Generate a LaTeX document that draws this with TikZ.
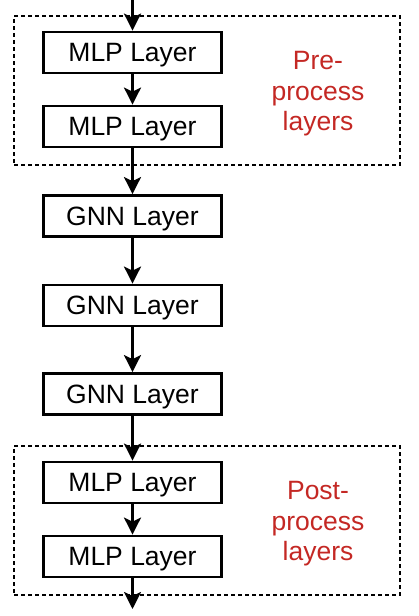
\documentclass[tikz,border=0pt]{standalone}
\usepackage{fontspec}
\setmainfont{Liberation Sans}
\usetikzlibrary{arrows.meta}
\definecolor{lblred}{RGB}{196,40,36}
\begin{document}
\begin{tikzpicture}[x=1pt,y=-1pt,
  layerbox/.style={draw, line width=2.8pt, minimum width=178pt, minimum height=41pt, inner sep=0pt,
    text depth=0pt, font=\fontsize{26.5}{31}\selectfont},
  grp/.style={draw, dashed, dash pattern=on 4pt off 3pt, line width=1.3pt, inner sep=0pt},
  lbl/.style={text=lblred, align=center, font=\fontsize{26.5}{30.5}\selectfont},
  flow/.style={line width=2.6pt, -{Stealth[length=17pt,width=17pt,inset=4pt]}}]
\useasboundingbox (0,0) rectangle (418,616);
\node[grp, minimum width=386pt, minimum height=149pt] (pre) at (207,90.5) {};
\node[grp, minimum width=386pt, minimum height=149pt] (post) at (207,520.5) {};
\node[layerbox] (m1) at (132.5,52.5) {MLP Layer};
\node[layerbox] (m2) at (132.5,126.5) {MLP Layer};
\node[layerbox] (g1) at (132.5,216) {GNN Layer};
\node[layerbox] (g2) at (132.5,305.5) {GNN Layer};
\node[layerbox] (g3) at (132.5,394) {GNN Layer};
\node[layerbox] (m3) at (132.5,482.5) {MLP Layer};
\node[layerbox] (m4) at (132.5,556.5) {MLP Layer};
\node[lbl] (prel) at (318,94) {Pre-\\process\\layers};
\node[lbl] (postl) at (318,524) {Post-\\process\\layers};
\coordinate (in) at (132.5,0);
\coordinate (out) at (132.5,609);
\draw[flow] (in) -- (m1);
\draw[flow] (m1) -- (m2);
\draw[flow] (m2) -- (g1);
\draw[flow] (g1) -- (g2);
\draw[flow] (g2) -- (g3);
\draw[flow] (g3) -- (m3);
\draw[flow] (m3) -- (m4);
\draw[flow] (m4) -- (out);
\end{tikzpicture}
\end{document}
